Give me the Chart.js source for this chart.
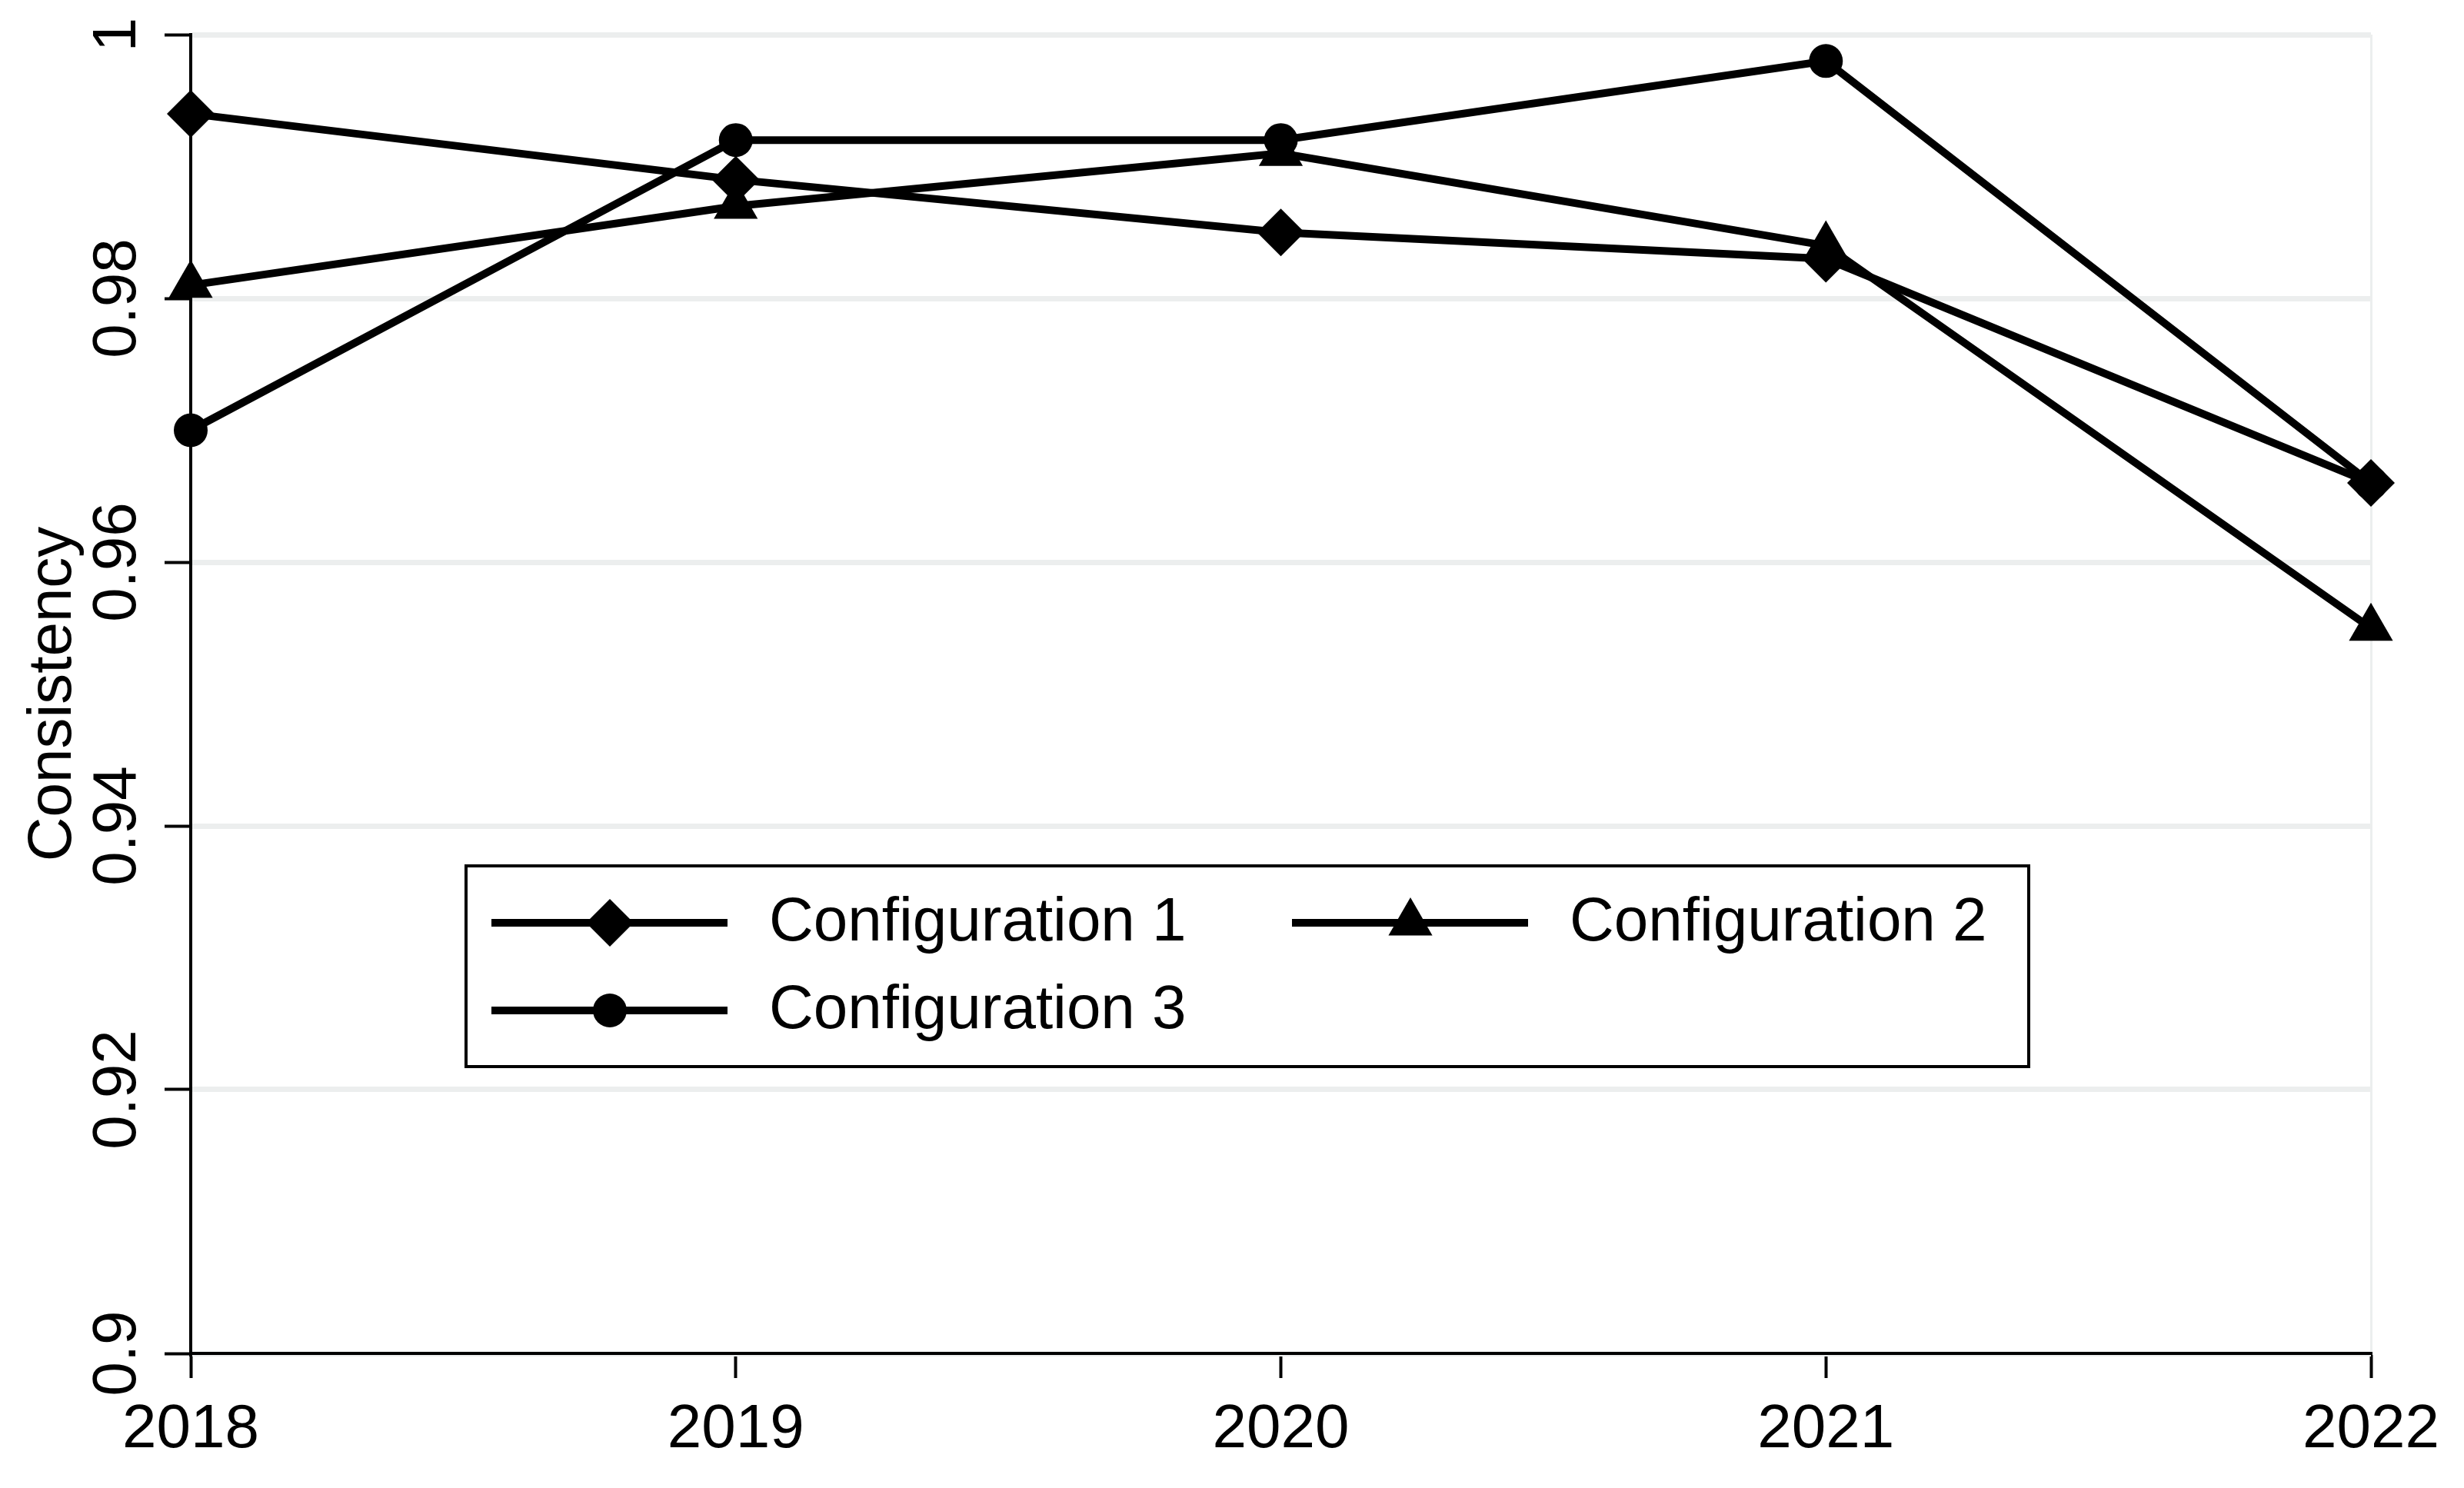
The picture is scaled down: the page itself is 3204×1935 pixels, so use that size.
<!DOCTYPE html>
<html lang="en">
  <head>
    <meta charset="UTF-8" />
    <title>Consistency by year</title>
    <style>
      html,
      body {
        margin: 0;
        padding: 0;
        background: #fff;
      }
      #chart-wrap {
        width: 3204px;
        height: 1935px;
      }
    </style>
  </head>
  <body>
    <div id="chart-wrap">
      <canvas id="consistency-chart" width="3204" height="1935"></canvas>
    </div>

    <script src="https://cdn.jsdelivr.net/npm/chart.js"></script>
    <script>
      // data
      const years = ["2018", "2019", "2020", "2021", "2022"];
      const config1 = [0.994, 0.989, 0.985, 0.983, 0.966];
      const config2 = [0.981, 0.987, 0.991, 0.984, 0.955];
      const config3 = [0.97, 0.992, 0.992, 0.998, 0.966];
      const seriesNames = ["Configuration 1", "Configuration 2", "Configuration 3"];
      const yTicks = [0.9, 0.92, 0.94, 0.96, 0.98, 1];
      const yTickLabels = ["0.9", "0.92", "0.94", "0.96", "0.98", "1"];
      const yTitle = "Consistency";

      const FONT = "'Liberation Sans', Arial, sans-serif";
      const gridGray = "#eceeee";

      // legend drawn inside the plot, Stata style (line + marker)
      const boxLegend = {
        id: "boxLegend",
        afterDraw(chart) {
          const ctx = chart.ctx;
          ctx.save();
          ctx.strokeStyle = "#000";
          ctx.lineWidth = 4;
          ctx.strokeRect(606, 1126, 2032, 261);

          const slots = [
            [639, 1200],
            [1680, 1200],
            [639, 1314],
          ];
          ctx.font = "80px " + FONT;
          ctx.textBaseline = "middle";
          ctx.textAlign = "left";
          chart.data.datasets.forEach((ds, i) => {
            const [x, y] = slots[i];
            ctx.strokeStyle = ds.borderColor;
            ctx.lineWidth = ds.borderWidth;
            ctx.beginPath();
            ctx.moveTo(x, y);
            ctx.lineTo(x + 307, y);
            ctx.stroke();
            ctx.fillStyle = ds.pointBackgroundColor;
            Chart.helpers.drawPoint(
              ctx,
              { pointStyle: ds.pointStyle, radius: ds.pointRadius, rotation: 0, borderWidth: 0 },
              x + 154,
              y
            );
            ctx.fillStyle = "#000";
            ctx.fillText(ds.label, x + 361, y + 1);
          });
          ctx.restore();
        },
      };

      function serie(label, data, style, radius) {
        return {
          label: label,
          data: data,
          borderColor: "#000",
          borderWidth: 10,
          backgroundColor: "#000",
          pointBackgroundColor: "#000",
          pointBorderWidth: 0,
          pointStyle: style,
          pointRadius: radius,
          tension: 0,
          fill: false,
        };
      }

      new Chart(document.getElementById("consistency-chart"), {
        type: "line",
        data: {
          labels: years,
          datasets: [
            serie(seriesNames[0], config1, "rectRot", 31),
            serie(seriesNames[1], config2, "triangle", 33),
            serie(seriesNames[2], config3, "circle", 22),
          ],
        },
        options: {
          responsive: false,
          devicePixelRatio: 1,
          animation: false,
          events: [],
          layout: { padding: { top: 45, right: 121, left: 0, bottom: 0 } },
          plugins: {
            legend: { display: false },
            tooltip: { enabled: false },
          },
          scales: {
            x: {
              offset: false,
              grid: {
                drawOnChartArea: true,
                color: (c) => (c.index === 4 ? gridGray : c.index === 0 ? "rgba(0,0,0,0)" : "#ffffff"),
                lineWidth: 3,
                tickLength: 32,
                tickColor: "#000",
                tickWidth: 4,
              },
              border: { color: "#000", width: 4 },
              ticks: {
                color: "#000",
                font: { family: FONT, size: 80 },
                padding: 20,
                maxRotation: 0,
                autoSkip: false,
              },
              afterFit: (s) => {
                s.height = 175;
              },
            },
            y: {
              min: 0.9,
              max: 1,
              afterBuildTicks: (s) => {
                s.ticks = yTicks.map((v) => ({ value: v }));
              },
              grid: {
                color: gridGray,
                lineWidth: 7,
                tickLength: 34,
                tickColor: "#000",
                tickWidth: 4,
              },
              border: { color: "#000", width: 4 },
              ticks: {
                color: "#000",
                font: { family: FONT, size: 80 },
                minRotation: 90,
                maxRotation: 90,
                crossAlign: "center",
                padding: -18,
                callback: (v, i) => yTickLabels[i],
              },
              title: {
                display: true,
                text: yTitle,
                color: "#000",
                font: { family: FONT, size: 80 },
                padding: { top: 22, bottom: 0 },
              },
              afterFit: (s) => {
                s.width = 248;
              },
            },
          },
        },
        plugins: [boxLegend],
      });
    </script>
  </body>
</html>
